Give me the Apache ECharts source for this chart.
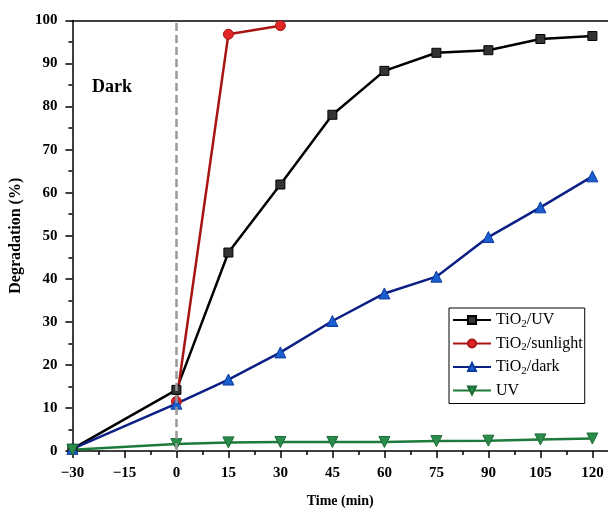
<!DOCTYPE html>
<html>
<head>
<meta charset="utf-8">
<script src="https://cdn.jsdelivr.net/npm/echarts@6/dist/echarts.min.js"></script>
<style>html,body{margin:0;padding:0;background:#fff;}#c{width:608px;height:513px;}</style>
</head>
<body>
<div id="c"></div>
<script>
// ---- data ----
const time = [-30, 0, 15, 30, 45, 60, 75, 90, 105, 120];
const tio2UV = [0.5, 14.2, 46.1, 61.9, 78.1, 88.3, 92.5, 93.1, 95.7, 96.4];
const tio2Sun = [null, 11.5, 96.8, 98.8, null, null, null, null, null, null];
const tio2Dark = [0.5, 11.0, 16.6, 22.9, 30.2, 36.6, 40.5, 49.7, 56.6, 63.8];
const uvOnly = [0.3, 1.6, 2.0, 2.1, 2.1, 2.1, 2.3, 2.4, 2.7, 2.9];
const xTickLabels = [-30, -15, 0, 15, 30, 45, 60, 75, 90, 105, 120];
const xMinorTicks = [-22.5, -7.5, 7.5, 22.5, 37.5, 52.5, 67.5, 82.5, 97.5, 112.5];
const seriesNames = ['TiO2/UV', 'TiO2/sunlight', 'TiO2/dark', 'UV'];
const darkLabel = 'Dark';

const font = 'Liberation Serif';
const pairs = (vals) => time.map((t, i) => [t, vals[i]]).filter(p => p[1] !== null);
const xMin = -30, xMax = 124.5;

const chart = echarts.init(document.getElementById('c'), null, {renderer: 'canvas'});
chart.setOption({
  animation: false,
  backgroundColor: '#fff',
  grid: {left: 70, right: 0, top: 20.5, bottom: 56, containLabel: false},
  xAxis: [
    {
      type: 'value', min: xMin, max: xMax, position: 'bottom',
      name: 'Time (min)', nameLocation: 'middle', nameGap: 43,
      nameTextStyle: {fontFamily: font, fontWeight: 'bold', fontSize: 14, color: '#000'},
      axisLine: {show: true, onZero: false, lineStyle: {color: '#000', width: 1.5}},
      axisTick: {show: true, length: 7, customValues: xTickLabels, lineStyle: {color: '#000', width: 1.5}},
      axisLabel: {customValues: xTickLabels, margin: 15, fontFamily: font, fontWeight: 'bold', fontSize: 15, color: '#000',
                  formatter: v => (v < 0 ? '\u2212' + Math.abs(v) : String(v))},
      splitLine: {show: false}
    },
    {
      type: 'value', min: xMin, max: xMax, position: 'bottom',
      axisLine: {show: false, onZero: false},
      axisTick: {show: true, length: 4, customValues: xMinorTicks, lineStyle: {color: '#000', width: 1.5}},
      axisLabel: {show: false},
      splitLine: {show: false}
    },
    {
      type: 'value', min: xMin, max: xMax, position: 'top',
      axisLine: {show: true, onZero: false, lineStyle: {color: '#000', width: 1.5}},
      axisTick: {show: false}, axisLabel: {show: false}, splitLine: {show: false}
    }
  ],
  yAxis: {
    type: 'value', min: 0, max: 100, interval: 10, position: 'left',
    name: 'Degradation (%)', nameLocation: 'middle', nameGap: 44,
    nameTextStyle: {fontFamily: font, fontWeight: 'bold', fontSize: 16, color: '#000'},
    axisLine: {show: true, onZero: false, lineStyle: {color: '#000', width: 1.5}},
    axisTick: {show: true, length: 7, lineStyle: {color: '#000', width: 1.5}},
    minorTick: {show: true, splitNumber: 2, length: 4, lineStyle: {color: '#000', width: 1.5}},
    axisLabel: {margin: 15, fontFamily: font, fontWeight: 'bold', fontSize: 15, color: '#000'},
    splitLine: {show: false}
  },
  legend: {
    orient: 'vertical', left: 449, top: 308,
    padding: [4, 2, 5, 3], itemGap: 6, itemWidth: 38, itemHeight: 10,
    borderColor: '#000', borderWidth: 1, backgroundColor: '#fff',
    data: seriesNames,
    formatter: n => n.replace('TiO2', 'TiO{s|2}'),
    textStyle: {fontFamily: font, fontSize: 16, color: '#000',
      rich: {s: {fontFamily: font, fontSize: 11, color: '#000', verticalAlign: 'bottom', padding: [8, 0, 0, 0]}}}
  },
  graphic: [{
    type: 'text', left: 92, top: 78,
    style: {text: darkLabel, fontFamily: font, fontWeight: 'bold', fontSize: 18, fill: '#000'}
  }],
  series: [
    {
      name: seriesNames[0], type: 'line', data: pairs(tio2UV), symbol: 'rect', symbolSize: 9,
      lineStyle: {color: '#000', width: 2.5},
      itemStyle: {color: '#333', borderColor: '#000', borderWidth: 1}, z: 3,
      markLine: {
        silent: true, symbol: 'none', label: {show: false},
        lineStyle: {color: '#999', type: [8, 4], width: 2.5},
        data: [{xAxis: 0}]
      }
    },
    {
      name: seriesNames[1], type: 'line', data: pairs(tio2Sun), symbol: 'circle', symbolSize: 10,
      lineStyle: {color: '#a81414', width: 2.5},
      itemStyle: {color: '#e02626', borderColor: '#a81414', borderWidth: 1}, z: 3
    },
    {
      name: seriesNames[2], type: 'line', data: pairs(tio2Dark), symbol: 'triangle', symbolSize: 11,
      lineStyle: {color: '#0b1f85', width: 2.5},
      itemStyle: {color: '#1a5ed0', borderColor: '#0b3a9e', borderWidth: 1}, z: 3
    },
    {
      name: seriesNames[3], type: 'line', data: pairs(uvOnly), symbol: 'triangle', symbolRotate: 180, symbolSize: 11,
      lineStyle: {color: '#1c7a3a', width: 2.5},
      itemStyle: {color: '#2a8c4a', borderColor: '#1c6a34', borderWidth: 1}, z: 3
    }
  ]
});
</script>
</body>
</html>
